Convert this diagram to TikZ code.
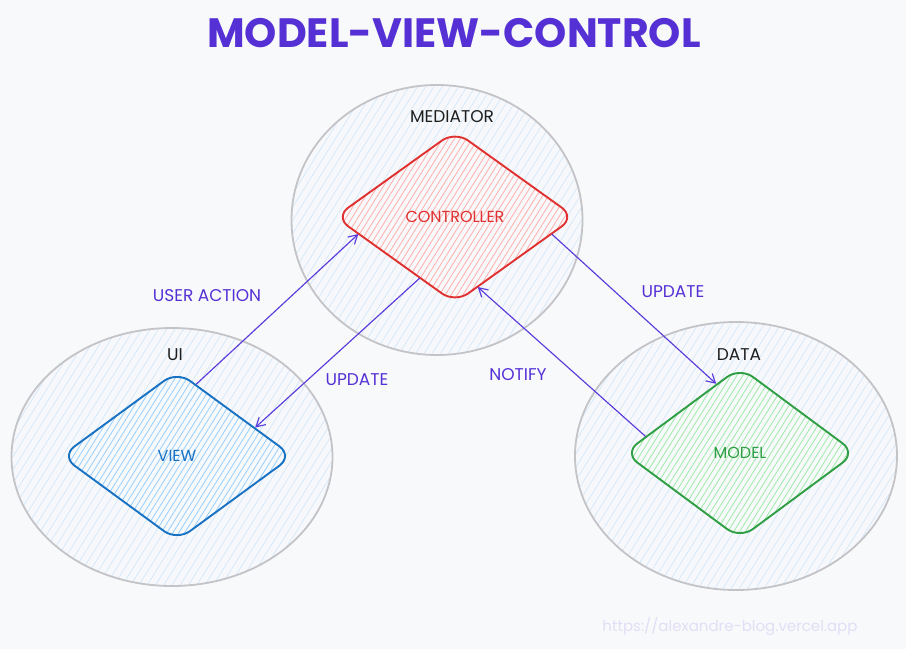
\documentclass[tikz,border=0pt]{standalone}
\usepackage{fontspec}
\setmainfont{Poppins}
\usetikzlibrary{shapes.geometric,arrows.meta,patterns.meta}
\definecolor{bgc}{HTML}{F8F9FA}
\definecolor{circin}{HTML}{F6F8FB}
\definecolor{hatchblue}{HTML}{CCE4F8}
\definecolor{circline}{HTML}{C4C4C8}
\definecolor{titlec}{HTML}{5530D5}
\definecolor{arrowc}{HTML}{5B3BDB}
\definecolor{inkc}{HTML}{1E1E1E}
\definecolor{ctrlline}{HTML}{E03131}
\definecolor{ctrlhatch}{HTML}{FFB0B0}
\definecolor{viewline}{HTML}{1971C2}
\definecolor{viewhatch}{HTML}{99D1FF}
\definecolor{modelline}{HTML}{2F9E44}
\definecolor{modelhatch}{HTML}{A0EBAD}
\definecolor{wmark}{HTML}{E2DEF6}
\tikzset{
  zone/.style={ellipse, draw=circline, line width=1.8pt,
    preaction={fill=circin},
    pattern={Lines[angle=58,distance=7pt,line width=0.5pt]}, pattern color=hatchblue},
  rdiamond/.style={diamond, rounded corners=16pt, line width=1.9pt, inner sep=0pt,
    preaction={fill=bgc},
    pattern={Lines[angle=58,distance=5pt,line width=0.85pt]},
    font=\fontsize{16}{18}\selectfont},
  flow/.style={draw=arrowc, line width=1.15pt, -{Straight Barb[angle=60:10pt, line width=1.15pt]}},
  flowlabel/.style={text=titlec, font=\fontsize{17}{19}\selectfont},
  zonelabel/.style={text=inkc, font=\fontsize{17}{19}\selectfont}
}
\begin{document}
\begin{tikzpicture}[x=1pt,y=-1pt]
\fill[bgc] (0,0) rectangle (906,649);
\useasboundingbox (0,0) rectangle (906,649);

\node[titlec, font=\fontsize{41}{46}\selectfont\bfseries] (title) at (454,33) {MODEL-VIEW-CONTROL};

\node[zone, minimum width=291pt, minimum height=270pt] (medz) at (437,220) {};
\node[zone, minimum width=321pt, minimum height=258pt] (uiz) at (172,457) {};
\node[zone, minimum width=322pt, minimum height=268pt] (dataz) at (736,456) {};

\node[zonelabel] (medl) at (452,117) {MEDIATOR};
\node[zonelabel] (uil) at (175,355) {UI};
\node[zonelabel] (datal) at (739,355) {DATA};

\node[rdiamond, draw=ctrlline, pattern color=ctrlhatch, text=ctrlline,
  minimum width=240pt, minimum height=172pt] (ctrl) at (455,217) {CONTROLLER};
\node[rdiamond, draw=viewline, pattern color=viewhatch, text=viewline,
  minimum width=232pt, minimum height=170pt] (view) at (177,456) {VIEW};
\node[rdiamond, draw=modelline, pattern color=modelhatch, text=modelline,
  minimum width=232pt, minimum height=172pt] (model) at (740,453) {MODEL};

\draw[flow] (view.75) -- (ctrl.190);
\draw[flow] (ctrl.240) -- (view.20);
\draw[flow] (ctrl.350) -- (model.109);
\draw[flow] (model.170) -- (ctrl.288);

\node[flowlabel] (lua) at (207,296) {USER ACTION};
\node[flowlabel] (lup1) at (357,380) {UPDATE};
\node[flowlabel] (lup2) at (673,292) {UPDATE};
\node[flowlabel] (lno) at (518,375) {NOTIFY};

\node[text=wmark, font=\fontsize{15}{17}\selectfont] (wm) at (730,626) {https://alexandre-blog.vercel.app};
\end{tikzpicture}
\end{document}
